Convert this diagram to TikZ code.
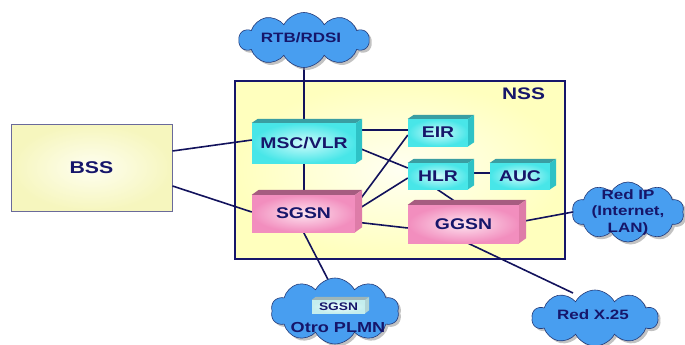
\documentclass[tikz,border=0pt]{standalone}
\usepackage{fontspec}
\newfontfamily\lab[FakeStretch=1.25]{Liberation Sans}
\usetikzlibrary{shapes.symbols,shadows,calc}

\definecolor{navy}{HTML}{16166A}
\definecolor{linecol}{HTML}{12125C}
\definecolor{cyanout}{HTML}{48E6E8}
\definecolor{cyanin}{HTML}{CFFBFB}
\definecolor{cyantop}{HTML}{3A9EA2}
\definecolor{cyanside}{HTML}{2EC2C6}
\definecolor{pinkout}{HTML}{F28EBE}
\definecolor{pinkin}{HTML}{FDE4F0}
\definecolor{pinktop}{HTML}{A65C80}
\definecolor{pinkside}{HTML}{DE7CA8}
\definecolor{paleout}{HTML}{C4EEEE}
\definecolor{palein}{HTML}{EFFFFF}
\definecolor{paletop}{HTML}{9FB6B8}
\definecolor{paleside}{HTML}{B0D4D6}
\definecolor{nssout}{HTML}{FFFFBE}
\definecolor{nssin}{HTML}{FFFFF2}
\definecolor{bssout}{HTML}{F6F6BE}
\definecolor{bssin}{HTML}{FEFEF0}
\definecolor{bssedge}{HTML}{6A6A9A}
\definecolor{cloudfill}{HTML}{489EF0}
\definecolor{cloudedge}{HTML}{243A78}

\pgfdeclarelayer{frame}
\pgfdeclarelayer{lines}
\pgfsetlayers{frame,lines,main}

% top and right faces of a raised box
\newcommand\boxfaces[5]{%
  \fill[#4] (#1.north west) -- ++(#2,-#3) -- ($(#1.north east)+(#2,-#3)$) -- (#1.north east) -- cycle;
  \fill[#5] (#1.north east) -- ($(#1.north east)+(#2,-#3)$) -- ($(#1.south east)+(#2,-#3)$) -- (#1.south east) -- cycle;}

\tikzset{
  boxfont/.style={font=\lab\bfseries\fontsize{15.5}{17}\selectfont},
  cloudfont/.style={font=\lab\bfseries\fontsize{13.6}{16.5}\selectfont},
  front/.style={rectangle, inner sep=0pt, shading=radial, text=navy, boxfont},
  cyanbox/.style={front, inner color=cyanin, outer color=cyanout},
  pinkbox/.style={front, inner color=pinkin, outer color=pinkout},
  palebox/.style={front, inner color=palein, outer color=paleout,
    font=\lab\bfseries\fontsize{11}{12}\selectfont},
  link/.style={draw=linecol, line width=1.6pt},
  cloudy/.style={cloud, cloud puffs=10, cloud puff arc=125, cloud ignores aspect,
    fill=cloudfill, draw=cloudedge, line width=0.6pt, inner sep=0pt,
    drop shadow={shadow xshift=2.5pt, shadow yshift=-2.5pt, fill=black!40, opacity=0.6}},
  cloudtext/.style={text=navy, cloudfont, align=center, inner sep=0pt},
}

\begin{document}
\begin{tikzpicture}[x=1pt,y=-1pt]
\useasboundingbox (0,0) rectangle (685,345);

% network subsystem frame and base station subsystem
\begin{pgfonlayer}{frame}
\node[rectangle, draw=navy, line width=2pt, shading=radial, inner color=nssin, outer color=nssout,
      minimum width=330pt, minimum height=178pt] (nss) at (400,170) {};
\node[rectangle, draw=bssedge, line width=1pt, shading=radial, inner color=bssin, outer color=bssout,
      minimum width=161pt, minimum height=87pt, text=navy,
      font=\lab\bfseries\fontsize{17}{18}\selectfont] (bss) at (91.5,167.5) {BSS};
\end{pgfonlayer}
\node[text=navy, font=\lab\bfseries\fontsize{16.7}{18}\selectfont, inner sep=0pt] (nsstext) at (523.5,94) {NSS};

% network elements (front faces)
\node[cyanbox, minimum width=104pt, minimum height=40pt] (msc) at (304,143) {MSC/VLR};
\node[cyanbox, minimum width=60pt, minimum height=27pt] (eir) at (438,132.5) {EIR};
\node[cyanbox, minimum width=60pt, minimum height=26pt] (hlr) at (438,176) {HLR};
\node[cyanbox, minimum width=60pt, minimum height=26pt] (auc) at (520,176) {AUC};
\node[pinkbox, minimum width=103pt, minimum height=37pt] (sgsn) at (303.5,213.5) {SGSN};
\node[pinkbox, minimum width=111pt, minimum height=38pt] (ggsn) at (463.5,224) {GGSN};

\boxfaces{msc}{6}{4}{cyantop}{cyanside}
\boxfaces{eir}{6}{4}{cyantop}{cyanside}
\boxfaces{hlr}{6}{4}{cyantop}{cyanside}
\boxfaces{auc}{6}{4}{cyantop}{cyanside}
\boxfaces{sgsn}{7}{5}{pinktop}{pinkside}
\boxfaces{ggsn}{7}{5}{pinktop}{pinkside}

% external networks
\node[cloudy, minimum width=130pt, minimum height=55pt] (rtb) at (304,40) {};
\node[cloudtext] (rtbtext) at (301,38) {RTB/RDSI};
\node[cloudy, minimum width=128pt, minimum height=66pt] (plmn) at (335,311) {};
\node[palebox, minimum width=53pt, minimum height=13pt] (sgsn2) at (338.5,306.5) {SGSN};
\boxfaces{sgsn2}{4}{3}{paletop}{paleside}
\node[cloudtext, font=\lab\bfseries\fontsize{14.5}{16}\selectfont] (plmntext) at (338,328) {Otro PLMN};
\node[cloudy, minimum width=112pt, minimum height=60pt] (ip) at (628,212) {};
\node[cloudtext] (iptext) at (628,212) {Red IP\\(Internet,\\LAN)};
\node[cloudy, minimum width=126pt, minimum height=56pt] (x25) at (595,318) {};
\node[cloudtext] (x25text) at (593,315) {Red X.25};

% connectors, kept underneath the boxes and clouds
\begin{pgfonlayer}{lines}
\draw[link] ([yshift=16.5pt]bss.east) -- ([yshift=3pt]msc.west);
\draw[link] ([yshift=-18.5pt]bss.east) -- ([yshift=1.5pt]sgsn.west);
\draw[link] ([yshift=13pt]msc.east) -- ([yshift=2.5pt]eir.west);
\draw[link] ([yshift=-4pt]msc.east) -- ([yshift=8pt]hlr.west);
\draw[link] (msc.south) -- (sgsn.north -| msc.south);
\draw[link] ([yshift=7.5pt]sgsn.east) -- ([yshift=-2.5pt]eir.west);
\draw[link] ([yshift=2.5pt]sgsn.east) -- ([yshift=-2pt]hlr.west);
\draw[link] ([yshift=-8.5pt]sgsn.east) -- ([yshift=-4pt]ggsn.west);
\draw[link] ([yshift=3pt]hlr.east) -- ([yshift=3pt]auc.west);
\draw[link] ([xshift=-1pt]hlr.south) -- ([xshift=-3.5pt]ggsn.north);
\draw[link] ([yshift=2pt]ggsn.east) -- (ip.west);
\draw[link] ([xshift=4.5pt]ggsn.south) -- ([xshift=-22pt,yshift=25pt]x25.center);
\draw[link] (sgsn.south) -- (sgsn2.north);
\draw[link] (rtb.south) -- (msc.north);
\end{pgfonlayer}
\end{tikzpicture}
\end{document}
